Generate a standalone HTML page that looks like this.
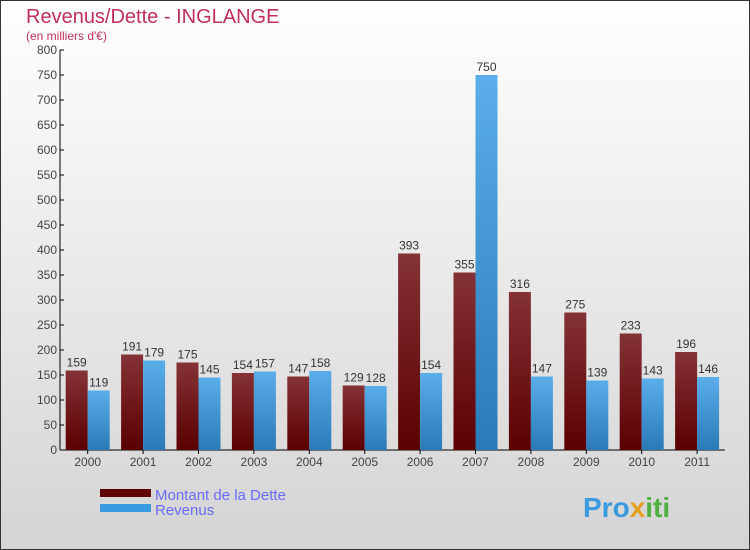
<!DOCTYPE html>
<html><head><meta charset="utf-8"><style>
body{margin:0;}
#c{width:750px;height:550px;position:relative;overflow:hidden;}
text{font-family:"Liberation Sans",sans-serif;}
</style></head><body>
<div id="c">
<svg id="s" width="750" height="550" xmlns="http://www.w3.org/2000/svg">
<defs>
<linearGradient id="bg" x1="0" y1="0" x2="0" y2="1"><stop offset="0" stop-color="#ffffff"/><stop offset="1" stop-color="#d4d4d4"/></linearGradient>
<linearGradient id="gr" x1="0" y1="0" x2="0" y2="1"><stop offset="0" stop-color="#853236"/><stop offset="1" stop-color="#5a0000"/></linearGradient>
<linearGradient id="gb" x1="0" y1="0" x2="0" y2="1"><stop offset="0" stop-color="#5aaeea"/><stop offset="1" stop-color="#2a7ab8"/></linearGradient>
</defs>
<rect x="0.5" y="0.5" width="749" height="549" fill="url(#bg)" stroke="#333"/>
<text x="26" y="23" font-size="20" fill="#c0305a">Revenus/Dette - INGLANGE</text>
<text x="26" y="40" font-size="12" fill="#c0305a">(en milliers d'€)</text>
<g id="axes"></g>
<g id="bars"></g>
<rect x="100" y="489" width="51" height="8" fill="#600000"/>
<rect x="100" y="504" width="51" height="8" fill="#3a9ae0"/>
<text x="155" y="500" font-size="15" fill="#6a6aff">Montant de la Dette</text>
<text x="155" y="515" font-size="15" fill="#6a6aff">Revenus</text>
<text x="583" y="517" font-size="28" font-weight="bold" fill="#3a9ae0">Pro<tspan fill="#e8a020">x</tspan><tspan fill="#50b040">iti</tspan></text>
</svg>
</div>
<script>
const categories=["2000","2001","2002","2003","2004","2005","2006","2007","2008","2009","2010","2011"];
const dette=[159,191,175,154,147,129,393,355,316,275,233,196];
const revenus=[119,179,145,157,158,128,154,750,147,139,143,146];
const yTicks=[0,50,100,150,200,250,300,350,400,450,500,550,600,650,700,750,800];
const NS="http://www.w3.org/2000/svg";
const x0=60,band=55.4,yB=450,yT=50,yMax=800;
const y=v=>yB-(v/yMax)*(yB-yT);
const cx=i=>x0+band*(i+0.5);
const ax=document.getElementById('axes'),bg=document.getElementById('bars');
function mk(t,a,p){const e=document.createElementNS(NS,t);for(const k in a)e.setAttribute(k,a[k]);p.appendChild(e);return e;}
let l=mk('line',{x1:x0,y1:yT,x2:x0,y2:yB,stroke:'#000'},ax);


l=mk('line',{x1:x0,y1:yB,x2:x0+band*12,y2:yB,stroke:'#000'},ax);


yTicks.forEach(v=>{
 mk('line',{x1:x0,y1:y(v),x2:x0+4,y2:y(v),stroke:'#000'},ax);
 const t=mk('text',{x:x0-3,y:y(v)+4,'font-size':12,'text-anchor':'end',fill:'#444'},ax);
 t.textContent=v;
 
 
});
categories.forEach((c,i)=>{
 mk('line',{x1:cx(i),y1:yB,x2:cx(i),y2:yB+4,stroke:'#000'},ax);
 const t=mk('text',{x:cx(i),y:yB+16,'font-size':12,'text-anchor':'middle',fill:'#444'},ax);
 t.textContent=c;
 
 
 const r=mk('rect',{x:cx(i)-22,y:y(dette[i]),width:22,height:yB-y(dette[i]),fill:'url(#gr)'},bg);
 
 
 const b=mk('rect',{x:cx(i),y:y(revenus[i]),width:22,height:yB-y(revenus[i]),fill:'url(#gb)'},bg);
 
 
 const t1=mk('text',{x:cx(i)-11,y:y(dette[i])-4,'font-size':12,'text-anchor':'middle',fill:'#333'},bg);
 t1.textContent=dette[i];
 
 
 const t2=mk('text',{x:cx(i)+11,y:y(revenus[i])-4,'font-size':12,'text-anchor':'middle',fill:'#333'},bg);
 t2.textContent=revenus[i];
 
 
});
</script>
</body></html>
